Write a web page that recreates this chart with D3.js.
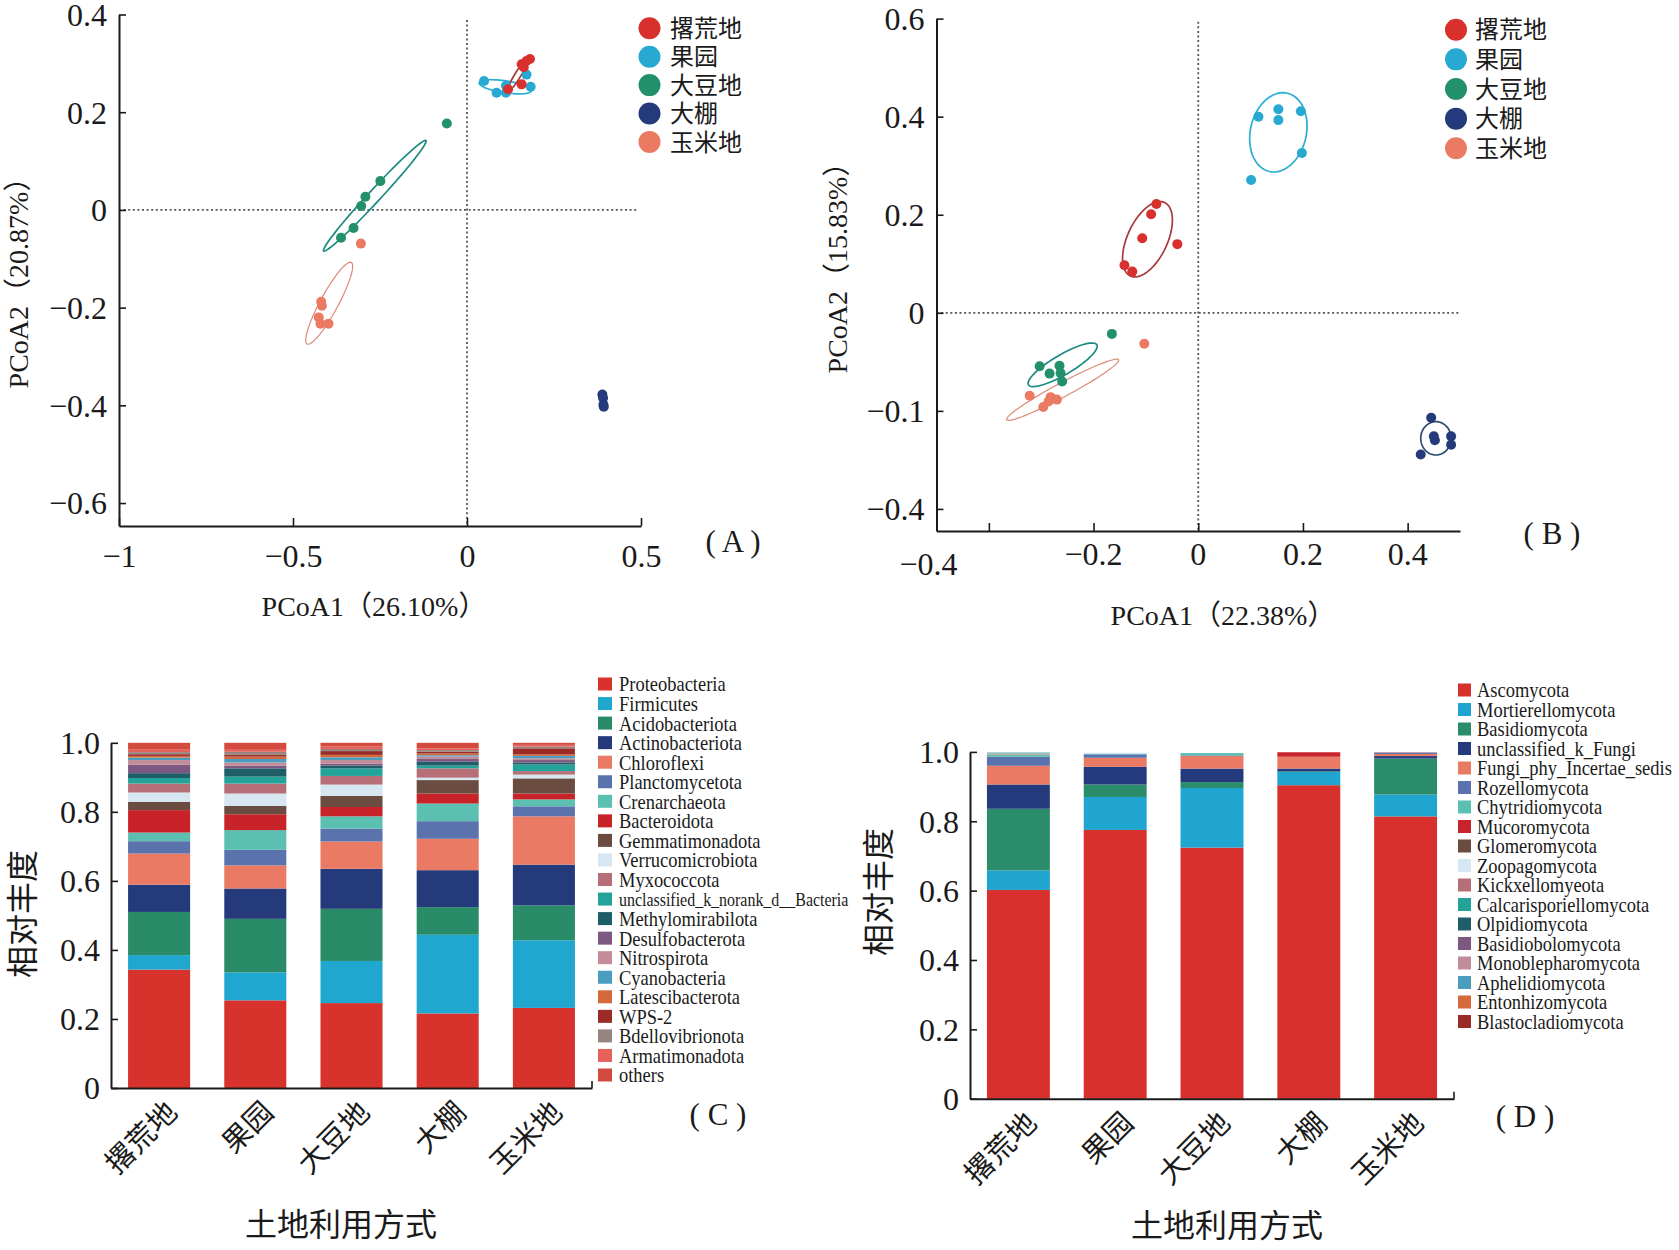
<!DOCTYPE html>
<html>
<head>
<meta charset="utf-8">
<script src="https://cdn.jsdelivr.net/npm/d3@7"></script>
<style>
  html, body { margin: 0; padding: 0; background: #fff; }
  svg { display: block; }
</style>
</head>
<body>
<svg id="fig" width="1679" height="1250"></svg>
<script>
// Groups (land use types)
const groups = ["撂荒地", "果园", "大豆地", "大棚", "玉米地"];
const groupColors = ["#d8312d", "#27a9d2", "#22906b", "#243a7b", "#ea7b62"];
const ellipseColors = ["#a8393a", "#2aaed3", "#1d8a82", "#2f4b6e", "#dc8a78"];

// PCoA (A) bacteria: [group, PCoA1, PCoA2]
const pcoaAPoints = [
    [1, 0.049, 0.264], [1, 0.085, 0.240], [1, 0.112, 0.254], [1, 0.112, 0.240], [1, 0.183, 0.252], [1, 0.171, 0.277],
    [0, 0.157, 0.298], [0, 0.171, 0.305], [0, 0.181, 0.309], [0, 0.163, 0.292], [0, 0.157, 0.257], [0, 0.118, 0.247],
    [2, -0.058, 0.177], [2, -0.249, 0.059], [2, -0.292, 0.027], [2, -0.304, 0.008], [2, -0.326, -0.037], [2, -0.362, -0.057],
    [3, 0.389, -0.378], [3, 0.391, -0.385], [3, 0.392, -0.399], [3, 0.393, -0.403],
    [4, -0.305, -0.069], [4, -0.419, -0.188], [4, -0.417, -0.196], [4, -0.426, -0.220], [4, -0.421, -0.233], [4, -0.398, -0.233]
];
// ellipses: [group, cx, cy, major dx, major dy, minor dx, minor dy]
const pcoaAEllipses = [
    [2, -0.265, 0.029, 0.147, 0.113, 0.0126, -0.0084],
    [4, -0.396, -0.191, 0.0635, 0.0835, 0.0227, -0.0088],
    [1, 0.110, 0.252, 0.075, -0.008, -0.0025, -0.0121],
    [0, 0.146, 0.276, 0.030, 0.035, 0.0073, -0.0032]
];
const pcoaAXTicks = [-1, -0.5, 0, 0.5];
const pcoaAYTicks = [0.4, 0.2, 0, -0.2, -0.4, -0.6];

// PCoA (B) fungi
const pcoaBPoints = [
    [0, -0.080, 0.222], [0, -0.090, 0.201], [0, -0.107, 0.152], [0, -0.040, 0.140], [0, -0.141, 0.097], [0, -0.126, 0.084],
    [1, 0.115, 0.400], [1, 0.153, 0.415], [1, 0.153, 0.393], [1, 0.196, 0.411], [1, 0.198, 0.326], [1, 0.101, 0.271],
    [4, -0.103, -0.063], [4, -0.322, -0.169], [4, -0.282, -0.172], [4, -0.270, -0.177], [4, -0.296, -0.192], [4, -0.286, -0.181],
    [2, -0.165, -0.043], [2, -0.303, -0.109], [2, -0.284, -0.124], [2, -0.265, -0.108], [2, -0.263, -0.123], [2, -0.260, -0.140],
    [3, 0.445, -0.214], [3, 0.450, -0.252], [3, 0.452, -0.260], [3, 0.483, -0.252], [3, 0.483, -0.269], [3, 0.425, -0.289]
];
const pcoaBEllipses = [
    [1, 0.153, 0.368, 0.0174, 0.0798, 0.052, -0.013],
    [0, -0.097, 0.150, 0.0327, 0.075, 0.0346, -0.0171],
    [2, -0.259, -0.106, 0.0653, 0.0408, 0.0096, -0.0176],
    [4, -0.259, -0.157, 0.107, 0.0612, 0.0063, -0.0126],
    [3, 0.454, -0.256, 0, 0.034, 0.029, 0]
];
const pcoaBXTicks = [-0.4, -0.2, 0, 0.2, 0.4];
const pcoaBXTickLabels = ["−0.4", "−0.2", "0", "0.2", "0.4"];
const pcoaBYTicks = [0.6, 0.4, 0.2, 0, -0.2, -0.4];
const pcoaBYTickLabels = ["0.6", "0.4", "0.2", "0", "−0.1", "−0.4"];

// (C) bacteria phyla, values per group in order of `groups`
const bacteriaPhyla = [
    "Proteobacteria", "Firmicutes", "Acidobacteriota", "Actinobacteriota", "Chloroflexi",
    "Planctomycetota", "Crenarchaeota", "Bacteroidota", "Gemmatimonadota", "Verrucomicrobiota",
    "Myxococcota", "unclassified_k_norank_d__Bacteria", "Methylomirabilota", "Desulfobacterota",
    "Nitrospirota", "Cyanobacteria", "Latescibacterota", "WPS-2", "Bdellovibrionota",
    "Armatimonadota", "others"
];
const bacteriaColors = [
    "#d8322d", "#1fa7d0", "#2a8b69", "#243a7b", "#ea7a63",
    "#5a73ad", "#5bbfb1", "#c9232a", "#6a4c40", "#d6e7f2",
    "#b66f77", "#23a39a", "#1e5e68", "#7d5880", "#c48b99",
    "#4b9dbf", "#d46a3b", "#9a2b27", "#948580", "#e6615a", "#d24b3e"
];
const bacteriaValues = [
    [0.343, 0.254, 0.246, 0.216, 0.232],
    [0.042, 0.081, 0.122, 0.228, 0.196],
    [0.125, 0.155, 0.151, 0.080, 0.101],
    [0.079, 0.088, 0.116, 0.107, 0.118],
    [0.090, 0.067, 0.079, 0.091, 0.140],
    [0.036, 0.045, 0.037, 0.051, 0.029],
    [0.025, 0.057, 0.036, 0.051, 0.020],
    [0.065, 0.046, 0.027, 0.029, 0.017],
    [0.024, 0.024, 0.032, 0.039, 0.044],
    [0.027, 0.036, 0.033, 0.007, 0.011],
    [0.026, 0.029, 0.025, 0.027, 0.010],
    [0.016, 0.020, 0.022, 0.008, 0.019],
    [0.014, 0.024, 0.008, 0.011, 0.006],
    [0.025, 0.008, 0.006, 0.008, 0.007],
    [0.013, 0.009, 0.010, 0.007, 0.005],
    [0.007, 0.010, 0.008, 0.004, 0.007],
    [0.005, 0.007, 0.007, 0.005, 0.004],
    [0.005, 0.006, 0.011, 0.005, 0.018],
    [0.006, 0.008, 0.006, 0.005, 0.005],
    [0.007, 0.008, 0.007, 0.005, 0.005],
    [0.020, 0.018, 0.011, 0.016, 0.006]
];

// (D) fungi phyla
const fungiPhyla = [
    "Ascomycota", "Mortierellomycota", "Basidiomycota", "unclassified_k_Fungi",
    "Fungi_phy_Incertae_sedis", "Rozellomycota", "Chytridiomycota", "Mucoromycota",
    "Glomeromycota", "Zoopagomycota", "Kickxellomyeota", "Calcarisporiellomycota",
    "Olpidiomycota", "Basidiobolomycota", "Monoblepharomycota", "Aphelidiomycota",
    "Entonhizomycota", "Blastocladiomycota"
];
const fungiColors = [
    "#d8302c", "#1fa5cf", "#2a8c6a", "#243a7c", "#ea7a64", "#5a72ad",
    "#5bc0b2", "#c8242b", "#6a4d40", "#d6e8f3", "#b56f76", "#25a39a",
    "#1d5e6a", "#7d5780", "#c38c9a", "#4c9dbd", "#d56a3a", "#9a2c27"
];
const fungiValues = [
    [0.602, 0.775, 0.724, 0.904, 0.814],
    [0.056, 0.095, 0.172, 0.038, 0.063],
    [0.178, 0.036, 0.017, 0.002, 0.104],
    [0.070, 0.051, 0.039, 0.008, 0.007],
    [0.054, 0.026, 0.036, 0.034, 0.006],
    [0.026, 0.010, 0.002, 0.000, 0.004],
    [0.005, 0.002, 0.004, 0.000, 0.000],
    [0.001, 0.000, 0.000, 0.013, 0.000],
    [0.001, 0.000, 0.000, 0.000, 0.000],
    [0.002, 0.003, 0.000, 0.000, 0.000],
    [0.001, 0.000, 0.000, 0.000, 0.001],
    [0.002, 0.000, 0.002, 0.000, 0.000],
    [0.000, 0.000, 0.000, 0.000, 0.000],
    [0.000, 0.000, 0.000, 0.000, 0.000],
    [0.000, 0.000, 0.000, 0.000, 0.000],
    [0.000, 0.000, 0.000, 0.000, 0.000],
    [0.000, 0.000, 0.000, 0.000, 0.000],
    [0.000, 0.000, 0.000, 0.000, 0.000]
];
const barYTicks = [0, 0.2, 0.4, 0.6, 0.8, 1.0];
const barYTickLabels = ["0", "0.2", "0.4", "0.6", "0.8", "1.0"];

// Fonts
const SERIF = '"Liberation Serif", "Times New Roman", serif';
const CJK = '"Noto Sans CJK SC", sans-serif';
const MIXED = '"Liberation Serif", "Noto Sans CJK SC", serif';
const INK = "#1a1a1a";

const svg = d3.select("#fig");

const fmtNum = d => (d < 0 ? "−" + Math.abs(d) : String(d));

function styleAxis(g, size) {
    g.select(".domain").attr("stroke", INK).attr("stroke-width", 2);
    g.selectAll(".tick line").attr("stroke", INK).attr("stroke-width", 1.6);
    g.selectAll(".tick text")
        .attr("font-family", SERIF)
        .attr("font-size", size)
        .attr("fill", INK);
}

function ellipsePath(e, x, y) {
    const [, cx, cy, ax, ay, bx, by] = e;
    const pts = d3.range(0, 72).map(i => {
        const t = i / 72 * Math.PI * 2;
        return [
            x(cx + Math.cos(t) * ax + Math.sin(t) * bx),
            y(cy + Math.cos(t) * ay + Math.sin(t) * by)
        ];
    });
    return d3.line().curve(d3.curveLinearClosed)(pts);
}

function drawPcoa(opt) {
    const { x, y, points, ellipses } = opt;
    const g = svg.append("g");

    // dotted zero lines
    g.append("line")
        .attr("x1", x.range()[0]).attr("x2", opt.hEnd)
        .attr("y1", y(0)).attr("y2", y(0))
        .attr("stroke", "#555").attr("stroke-width", 1.8).attr("stroke-dasharray", "2,2.6");
    g.append("line")
        .attr("x1", x(0)).attr("x2", x(0))
        .attr("y1", opt.vTop).attr("y2", y.range()[0])
        .attr("stroke", "#555").attr("stroke-width", 1.8).attr("stroke-dasharray", "2,2.6");

    // axes
    const gx = g.append("g")
        .attr("transform", `translate(0,${y.range()[0]})`)
        .call(d3.axisBottom(x).tickValues(opt.xTicks).tickSizeInner(-8).tickSizeOuter(0)
            .tickPadding(opt.xPad).tickFormat(opt.xFormat));
    styleAxis(gx, 32);

    const gy = g.append("g")
        .attr("transform", `translate(${x.range()[0]},0)`)
        .call(d3.axisLeft(y).tickValues(opt.yTicks).tickSizeInner(-7).tickSizeOuter(0)
            .tickPadding(12).tickFormat(opt.yFormat));
    styleAxis(gy, 32);
    gy.selectAll(".tick text").attr("dy", "0.34em");

    // ellipses
    g.selectAll("path.ell")
        .data(ellipses)
        .join("path")
        .attr("class", "ell")
        .attr("d", e => ellipsePath(e, x, y))
        .attr("fill", "none")
        .attr("stroke", e => ellipseColors[e[0]])
        .attr("stroke-width", e => (e[0] === 4 ? 1.2 : 1.7));

    // points
    g.selectAll("circle.pt")
        .data(points)
        .join("circle")
        .attr("class", "pt")
        .attr("cx", d => x(d[1]))
        .attr("cy", d => y(d[2]))
        .attr("r", 5)
        .attr("fill", d => groupColors[d[0]]);

    // legend
    const lg = g.append("g").attr("transform", `translate(${opt.legendX},${opt.legendY})`);
    const item = lg.selectAll("g").data(groups).join("g")
        .attr("transform", (d, i) => `translate(0,${i * opt.legendStep})`);
    item.append("circle").attr("r", 11).attr("fill", (d, i) => groupColors[i]);
    item.append("text")
        .attr("x", opt.legendGap)
        .attr("dy", "0.36em")
        .attr("font-family", CJK)
        .attr("font-size", 24)
        .attr("fill", INK)
        .text(d => d);

    // titles
    g.append("text")
        .attr("x", opt.xTitle[0]).attr("y", opt.xTitle[1])
        .attr("text-anchor", "middle")
        .attr("font-family", MIXED).attr("font-size", 28).attr("fill", INK)
        .text(opt.xLabel);
    g.append("text")
        .attr("transform", `translate(${opt.yTitle[0]},${opt.yTitle[1]}) rotate(-90)`)
        .attr("text-anchor", "middle")
        .attr("dy", "0.35em")
        .attr("font-family", MIXED).attr("font-size", 28).attr("fill", INK)
        .text(opt.yLabel);
    g.append("text")
        .attr("x", opt.tag[0]).attr("y", opt.tag[1])
        .attr("text-anchor", "middle")
        .attr("font-family", SERIF).attr("font-size", 31).attr("fill", INK)
        .text(opt.tagText);
    return { g, gx, gy };
}

// ---------- Panel A ----------
const xA = d3.scaleLinear().domain([-1, 0.5]).range([119, 641]);
const yA = d3.scaleLinear().domain([-0.647, 0.4]).range([526, 14.5]);
drawPcoa({
    x: xA, y: yA, points: pcoaAPoints, ellipses: pcoaAEllipses,
    xTicks: pcoaAXTicks, yTicks: pcoaAYTicks,
    xFormat: fmtNum, yFormat: fmtNum, xPad: 18,
    hEnd: 638, vTop: 20,
    legendX: 649.5, legendY: 28.3, legendStep: 28.4, legendGap: 20.5,
    xLabel: "PCoA1（26.10%）", xTitle: [374, 616],
    yLabel: "PCoA2（20.87%）", yTitle: [18, 276],
    tagText: "( A )", tag: [733, 552]
});

// ---------- Panel B ----------
const xB = d3.scaleLinear().domain([-0.5, 0.5]).range([936.5, 1460]);
const yB = d3.scaleLinear().domain([-0.445, 0.6]).range([531, 18.6]);
const pb = drawPcoa({
    x: xB, y: yB, points: pcoaBPoints, ellipses: pcoaBEllipses,
    xTicks: pcoaBXTicks, yTicks: pcoaBYTicks,
    xFormat: () => "", yFormat: (d, i) => pcoaBYTickLabels[i], xPad: 12,
    hEnd: 1459, vTop: 21.7,
    legendX: 1456, legendY: 29.7, legendStep: 29.65, legendGap: 19,
    xLabel: "PCoA1（22.38%）", xTitle: [1223, 625],
    yLabel: "PCoA2（15.83%）", yTitle: [837, 261],
    tagText: "( B )", tag: [1552, 544]
});
// x labels of B: first one sits at the axis start, a little lower
pb.g.selectAll("text.bx")
    .data(pcoaBXTicks)
    .join("text")
    .attr("class", "bx")
    .attr("x", (d, i) => (i === 0 ? xB.range()[0] - 8 : xB(d)))
    .attr("y", (d, i) => yB.range()[0] + (i === 0 ? 44 : 34))
    .attr("text-anchor", "middle")
    .attr("font-family", SERIF).attr("font-size", 32).attr("fill", INK)
    .text((d, i) => pcoaBXTickLabels[i]);

// ---------- Stacked bars ----------
function drawBars(opt) {
    const { x, y, phyla, colors, values } = opt;
    const g = svg.append("g");

    const rows = groups.map((grp, i) => {
        const r = { group: grp };
        phyla.forEach((p, j) => { r[p] = values[j][i]; });
        return r;
    });
    const series = d3.stack().keys(phyla)(rows);

    g.selectAll("g.layer")
        .data(series)
        .join("g")
        .attr("class", "layer")
        .attr("fill", (d, i) => colors[i])
        .selectAll("rect")
        .data(d => d)
        .join("rect")
        .attr("x", d => x(d.data.group))
        .attr("width", x.bandwidth())
        .attr("y", d => y(d[1]))
        .attr("height", d => Math.max(0, y(d[0]) - y(d[1])));

    // axes
    const base = y.range()[0];
    const gx = g.append("g")
        .attr("transform", `translate(0,${base})`)
        .call(d3.axisBottom(x).tickSize(0).tickFormat(""));
    styleAxis(gx, 30);
    g.append("line")
        .attr("x1", x.range()[1]).attr("x2", x.range()[1])
        .attr("y1", base).attr("y2", base - 7)
        .attr("stroke", INK).attr("stroke-width", 1.6);

    const gy = g.append("g")
        .attr("transform", `translate(${x.range()[0]},0)`)
        .call(d3.axisLeft(y).tickValues(barYTicks).tickSizeInner(-7).tickSizeOuter(0)
            .tickPadding(11).tickFormat((d, i) => barYTickLabels[i]));
    styleAxis(gy, 32);
    gy.selectAll(".tick text").attr("dy", "0.34em");

    // rotated category labels
    g.selectAll("text.cat")
        .data(groups)
        .join("text")
        .attr("class", "cat")
        .attr("transform", d => `translate(${x(d) + x.bandwidth() / 2 + 20},${base + 26}) rotate(-45)`)
        .attr("text-anchor", "end")
        .attr("font-family", CJK).attr("font-size", 29).attr("fill", INK)
        .text(d => d);

    // titles
    g.append("text")
        .attr("x", opt.xTitle[0]).attr("y", opt.xTitle[1])
        .attr("text-anchor", "middle").attr("dy", "0.36em")
        .attr("font-family", CJK).attr("font-size", 32).attr("fill", INK)
        .text("土地利用方式");
    g.append("text")
        .attr("transform", `translate(${opt.yTitle[0]},${opt.yTitle[1]}) rotate(-90)`)
        .attr("text-anchor", "middle").attr("dy", "0.36em")
        .attr("font-family", CJK).attr("font-size", 32).attr("fill", INK)
        .text("相对丰度");
    g.append("text")
        .attr("x", opt.tag[0]).attr("y", opt.tag[1])
        .attr("text-anchor", "middle")
        .attr("font-family", SERIF).attr("font-size", 31).attr("fill", INK)
        .text(opt.tagText);

    // legend
    const lg = g.append("g").attr("transform", `translate(${opt.legendX},${opt.legendY})`);
    const item = lg.selectAll("g").data(phyla).join("g")
        .attr("transform", (d, i) => `translate(0,${i * opt.legendStep})`);
    item.append("rect")
        .attr("x", 0).attr("y", -6.5)
        .attr("width", opt.sw).attr("height", 13)
        .attr("fill", (d, i) => colors[i]);
    item.append("text")
        .attr("transform", `translate(${opt.legendGap},0) scale(0.84,1)`)
        .attr("dy", "0.34em")
        .attr("font-family", SERIF)
        .attr("font-size", d => (d.length > 26 ? 19 : 22))
        .attr("fill", INK)
        .text(d => d);
}

const xC = d3.scaleBand().domain(groups).range([111, 592]).paddingInner(0.355).paddingOuter(0.1775);
const yC = d3.scaleLinear().domain([0, 1]).range([1088, 742.8]);
drawBars({
    x: xC, y: yC, phyla: bacteriaPhyla, colors: bacteriaColors, values: bacteriaValues,
    xTitle: [341, 1224], yTitle: [22, 914], tagText: "( C )", tag: [718, 1125],
    legendX: 598, legendY: 684, legendStep: 19.55, legendGap: 21, sw: 14
});

const xD = d3.scaleBand().domain(groups).range([970, 1454]).paddingInner(0.35).paddingOuter(0.175);
const yD = d3.scaleLinear().domain([0, 1]).range([1098.7, 751.9]);
drawBars({
    x: xD, y: yD, phyla: fungiPhyla, colors: fungiColors, values: fungiValues,
    xTitle: [1227, 1225], yTitle: [878, 892], tagText: "( D )", tag: [1525, 1127],
    legendX: 1458, legendY: 690, legendStep: 19.5, legendGap: 19, sw: 13
});
</script>
</body>
</html>
